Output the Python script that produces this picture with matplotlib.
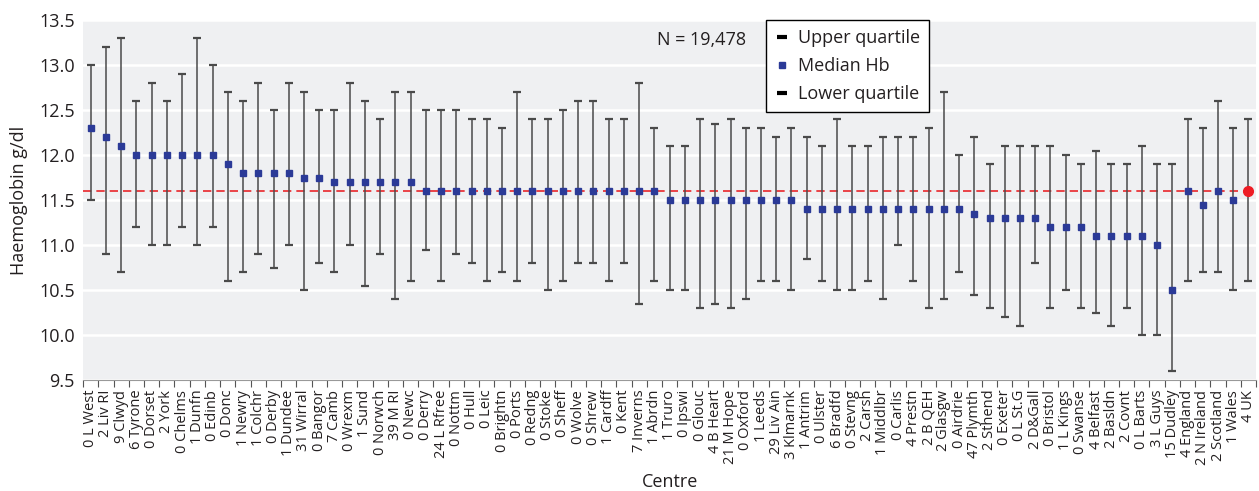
import matplotlib.pyplot as plt
from matplotlib.lines import Line2D

plt.rcParams['font.family'] = ['Open Sans', 'DejaVu Sans']

centres = ["0 L West", "2 Liv RI", "9 Clwyd", "6 Tyrone", "0 Dorset", "2 York", "0 Chelms",
           "1 Dunfn", "0 Edinb", "0 Donc", "1 Newry", "1 Colchr", "0 Derby", "1 Dundee",
           "31 Wirral", "0 Bangor", "7 Camb", "0 Wrexm", "1 Sund", "0 Norwch", "39 M RI",
           "0 Newc", "0 Derry", "24 L Rfree", "0 Nottm", "0 Hull", "0 Leic", "0 Brightn",
           "0 Ports", "0 Redng", "0 Stoke", "0 Sheff", "0 Wolve", "0 Shrew", "1 Cardff",
           "0 Kent", "7 Inverns", "1 Abrdn", "1 Truro", "0 Ipswi", "0 Glouc", "4 B Heart",
           "21 M Hope", "0 Oxford", "1 Leeds", "29 Liv Ain", "3 Klmarnk", "1 Antrim",
           "0 Ulster", "6 Bradfd", "0 Stevng", "2 Carsh", "1 Middlbr", "0 Carlis", "4 Prestn",
           "2 B QEH", "2 Glasgw", "0 Airdrie", "47 Plymth", "2 Sthend", "0 Exeter", "0 L St.G",
           "2 D&Gall", "0 Bristol", "1 L Kings", "0 Swanse", "4 Belfast", "2 Basldn", "2 Covnt",
           "0 L Barts", "3 L Guys", "15 Dudley", "4 England", "2 N Ireland", "2 Scotland",
           "1 Wales", "4 UK"]

median = [12.3, 12.2, 12.1, 12.0, 12.0, 12.0, 12.0, 12.0, 12.0, 11.9,
          11.8, 11.8, 11.8, 11.8, 11.75, 11.75, 11.7, 11.7, 11.7, 11.7,
          11.7, 11.7, 11.6, 11.6, 11.6, 11.6, 11.6, 11.6, 11.6, 11.6,
          11.6, 11.6, 11.6, 11.6, 11.6, 11.6, 11.6, 11.6, 11.5, 11.5,
          11.5, 11.5, 11.5, 11.5, 11.5, 11.5, 11.5, 11.4, 11.4, 11.4,
          11.4, 11.4, 11.4, 11.4, 11.4, 11.4, 11.4, 11.4, 11.35, 11.3,
          11.3, 11.3, 11.3, 11.2, 11.2, 11.2, 11.1, 11.1, 11.1, 11.1,
          11.0, 10.5, 11.6, 11.45, 11.6, 11.5, 11.6]

upper = [13.0, 13.2, 13.3, 12.6, 12.8, 12.6, 12.9, 13.3, 13.0, 12.7,
         12.6, 12.8, 12.5, 12.8, 12.7, 12.5, 12.5, 12.8, 12.6, 12.4,
         12.7, 12.7, 12.5, 12.5, 12.5, 12.4, 12.4, 12.3, 12.7, 12.4,
         12.4, 12.5, 12.6, 12.6, 12.4, 12.4, 12.8, 12.3, 12.1, 12.1,
         12.4, 12.35, 12.4, 12.3, 12.3, 12.2, 12.3, 12.2, 12.1, 12.4,
         12.1, 12.1, 12.2, 12.2, 12.2, 12.3, 12.7, 12.0, 12.2, 11.9,
         12.1, 12.1, 12.1, 12.1, 12.0, 11.9, 12.05, 11.9, 11.9, 12.1,
         11.9, 11.9, 12.4, 12.3, 12.6, 12.3, 12.4]

lower = [11.5, 10.9, 10.7, 11.2, 11.0, 11.0, 11.2, 11.0, 11.2, 10.6,
         10.7, 10.9, 10.75, 11.0, 10.5, 10.8, 10.7, 11.0, 10.55, 10.9,
         10.4, 10.6, 10.95, 10.6, 10.9, 10.8, 10.6, 10.7, 10.6, 10.8,
         10.5, 10.6, 10.8, 10.8, 10.6, 10.8, 10.35, 10.6, 10.5, 10.5,
         10.3, 10.35, 10.3, 10.4, 10.6, 10.6, 10.5, 10.85, 10.6, 10.5,
         10.5, 10.6, 10.4, 11.0, 10.6, 10.3, 10.4, 10.7, 10.45, 10.3,
         10.2, 10.1, 10.8, 10.3, 10.5, 10.3, 10.25, 10.1, 10.3, 10.0,
         10.0, 9.6, 10.6, 10.7, 10.7, 10.5, 10.6]

uk_median = 11.6
n_text = "N = 19,478"

fig = plt.figure(figsize=(12.59, 4.91), dpi=100)
ax = fig.add_axes([0.066, 0.226, 0.9317, 0.733])
ax.set_facecolor("#eff0f2")

x = list(range(len(centres)))
yerr = [[m - l for m, l in zip(median, lower)], [u - m for m, u in zip(median, upper)]]

ax.axhline(uk_median, color="#e8262a", linestyle=(0, (5, 3)), linewidth=1.2, zorder=2)
ax.errorbar(x[:-1], median[:-1], yerr=[yerr[0][:-1], yerr[1][:-1]], fmt="s",
            color="#2b3a97", markersize=5, ecolor="#4a4a4a", elinewidth=1.1,
            capsize=3, capthick=1.6, zorder=3)
ax.errorbar(x[-1:], median[-1:], yerr=[yerr[0][-1:], yerr[1][-1:]], fmt="o",
            color="#ee1c24", markersize=7, ecolor="#4a4a4a", elinewidth=1.1,
            capsize=3, capthick=1.6, zorder=3)

ax.set_ylim(9.5, 13.5)
ax.set_xlim(-0.5, len(centres) - 0.5)
ax.set_yticks([9.5 + 0.5 * i for i in range(9)])
ax.set_yticklabels(["{:.1f}".format(9.5 + 0.5 * i) for i in range(9)], fontsize=13, color="#231f20")
ax.grid(True, axis="y", color="white", linewidth=1.8)
ax.set_axisbelow(True)

ax.set_xticks([i - 0.5 for i in range(len(centres) + 1)])
ax.set_xticklabels([])
ax.set_xticks(x, minor=True)
ax.set_xticklabels(centres, minor=True, rotation=90, fontsize=10.5, color="#231f20")
ax.tick_params(axis="x", which="major", length=5, color="#555555", direction="out")
ax.tick_params(axis="x", which="minor", length=0, pad=7)
ax.tick_params(axis="y", length=0, pad=6)

for s in ["top", "right", "left"]:
    ax.spines[s].set_visible(False)
ax.spines["bottom"].set_color("#999999")

ax.set_ylabel("Haemoglobin g/dl", fontsize=13, color="#231f20", labelpad=8)
ax.set_xlabel("Centre", fontsize=13, color="#231f20", labelpad=6)

ax.text(0.527, 0.944, n_text, transform=ax.transAxes, fontsize=13, ha="center", va="center",
        color="#231f20")

handles = [
    Line2D([], [], linestyle="none", marker="_", color="black", markersize=7, markeredgewidth=3),
    Line2D([], [], linestyle="none", marker="s", color="#2b3a97", markersize=5),
    Line2D([], [], linestyle="none", marker="_", color="black", markersize=7, markeredgewidth=3),
]
leg = ax.legend(handles, ["Upper quartile", "Median Hb", "Lower quartile"],
                loc="upper left", bbox_to_anchor=(0.582, 1.0), borderaxespad=0, fontsize=13,
                fancybox=False, framealpha=1, edgecolor="black", handlelength=0.8,
                handletextpad=0.5, borderpad=0.5, labelspacing=0.55)
leg.get_frame().set_linewidth(1.0)
for t in leg.get_texts():
    t.set_color("#231f20")

fig.savefig("out.png", dpi=100)
